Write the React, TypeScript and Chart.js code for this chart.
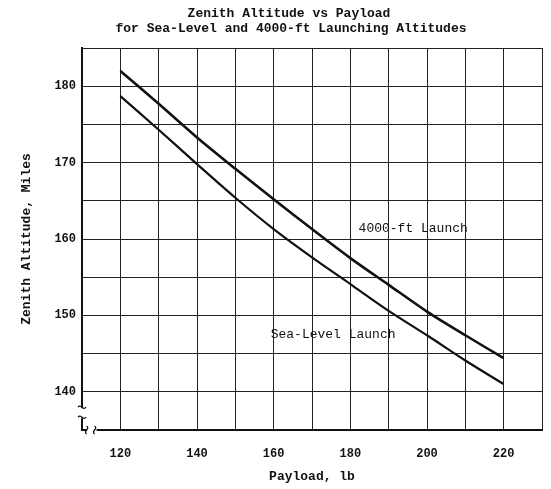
import React, { useEffect, useRef } from "react";
import { Chart, registerables } from "chart.js";

Chart.register(...registerables);

const payload = [120, 130, 140, 150, 160, 170, 180, 190, 200, 210, 220];
const launch4000 = [182.0, 177.7, 173.3, 169.2, 165.2, 161.3, 157.5, 154.0, 150.5, 147.4, 144.4];
const launchSea = [178.7, 174.3, 169.8, 165.4, 161.3, 157.6, 154.1, 150.6, 147.4, 144.1, 141.0];
const titleLines = ["Zenith Altitude vs Payload", "for Sea-Level and 4000-ft Launching Altitudes"];
const xTitle = "Payload, lb";
const yTitle = "Zenith Altitude, Miles";
const seriesLabels = ["4000-ft Launch", "Sea-Level Launch"];
const labelPos = [
  { x: 196.4, y: 161.4 },
  { x: 175.5, y: 147.5 },
];

const MONO = "'Liberation Mono', 'DejaVu Sans Mono', monospace";

const decorPlugin = {
  id: "decor",
  afterDraw(chart: any) {
    const ctx = chart.ctx;
    const xs = chart.scales.x;
    const ys = chart.scales.y;
    ctx.save();
    ctx.fillStyle = "#111";
    ctx.textAlign = "center";
    ctx.textBaseline = "middle";
    ctx.font = `bold 13px ${MONO}`;
    ctx.fillText(titleLines[0], 289, 14);
    ctx.fillText(titleLines[1], 291, 29);
    ctx.font = `13px ${MONO}`;
    seriesLabels.forEach((t, i) => {
      ctx.fillText(t, xs.getPixelForValue(labelPos[i].x), ys.getPixelForValue(labelPos[i].y));
    });
    // axis breaks
    const ax = xs.left;
    const by = ys.getPixelForValue(137.2);
    ctx.fillStyle = "#fff";
    ctx.fillRect(ax - 3, by - 5, 6, 10);
    const bx = xs.getPixelForValue(112.5);
    ctx.fillRect(bx - 5, ys.bottom - 3, 10, 6);
    ctx.strokeStyle = "#111";
    ctx.lineWidth = 1.3;
    for (const d of [-5, 5]) {
      ctx.beginPath();
      ctx.moveTo(ax - 4, by + d - 1);
      ctx.bezierCurveTo(ax - 1, by + d - 5, ax + 1, by + d + 3, ax + 4, by + d - 1);
      ctx.stroke();
    }
    for (const d of [-4, 4]) {
      ctx.beginPath();
      ctx.moveTo(bx + d - 1, ys.bottom + 4);
      ctx.bezierCurveTo(bx + d - 5, ys.bottom + 1, bx + d + 3, ys.bottom - 1, bx + d - 1, ys.bottom - 4);
      ctx.stroke();
    }
    ctx.restore();
  },
};

export default function App() {
  const ref = useRef<HTMLCanvasElement | null>(null);
  useEffect(() => {
    if (!ref.current) return;
    const chart = new Chart(ref.current, {
      type: "line",
      data: {
        datasets: [
          {
            label: seriesLabels[0],
            data: payload.map((p, i) => ({ x: p, y: launch4000[i] })),
            borderColor: "#111",
            borderWidth: 2.6,
            pointRadius: 0,
            tension: 0.3,
            fill: false,
          },
          {
            label: seriesLabels[1],
            data: payload.map((p, i) => ({ x: p, y: launchSea[i] })),
            borderColor: "#111",
            borderWidth: 2.2,
            pointRadius: 0,
            tension: 0.3,
            fill: false,
          },
        ],
      },
      options: {
        animation: false,
        responsive: true,
        maintainAspectRatio: false,
        layout: { padding: { left: 0, right: 9, top: 48, bottom: 0 } },
        plugins: { legend: { display: false }, tooltip: { enabled: false }, title: { display: false } },
        scales: {
          x: {
            type: "linear",
            min: 110,
            max: 230,
            afterFit: (s: any) => {
              s.height = 59;
              s.paddingLeft = 0;
              s.paddingRight = 0;
            },
            ticks: {
              stepSize: 10,
              autoSkip: false,
              maxRotation: 0,
              padding: 17,
              color: "#111",
              font: { family: MONO, size: 12, weight: "bold" },
              callback: (v: any) => (v % 20 === 0 && v >= 120 && v <= 220 ? String(v) : ""),
            },
            grid: { color: "#222", lineWidth: 1, drawTicks: false },
            border: { color: "#111", width: 2 },
            title: {
              display: true,
              text: xTitle,
              color: "#111",
              font: { family: MONO, size: 13, weight: "bold" },
              padding: { top: 0, bottom: 4 },
            },
          },
          y: {
            type: "linear",
            min: 135,
            max: 185,
            afterFit: (s: any) => {
              s.width = 82;
              s.paddingTop = 0;
              s.paddingBottom = 0;
            },
            ticks: {
              stepSize: 5,
              autoSkip: false,
              padding: 6,
              color: "#111",
              font: { family: MONO, size: 12, weight: "bold" },
              callback: (v: any) => (v % 10 === 0 && v >= 140 && v <= 180 ? String(v) : ""),
            },
            grid: { color: "#222", lineWidth: 1, drawTicks: false },
            border: { color: "#111", width: 2 },
            title: {
              display: true,
              text: yTitle,
              color: "#111",
              font: { family: MONO, size: 13, weight: "bold" },
              padding: { top: 19, bottom: 0 },
            },
          },
        },
      },
      plugins: [decorPlugin],
    });
    return () => chart.destroy();
  }, []);
  return (
    <div style={{ position: "absolute", left: 0, top: 0, width: 551, height: 489, background: "#fff" }}>
      <canvas ref={ref} />
    </div>
  );
}
